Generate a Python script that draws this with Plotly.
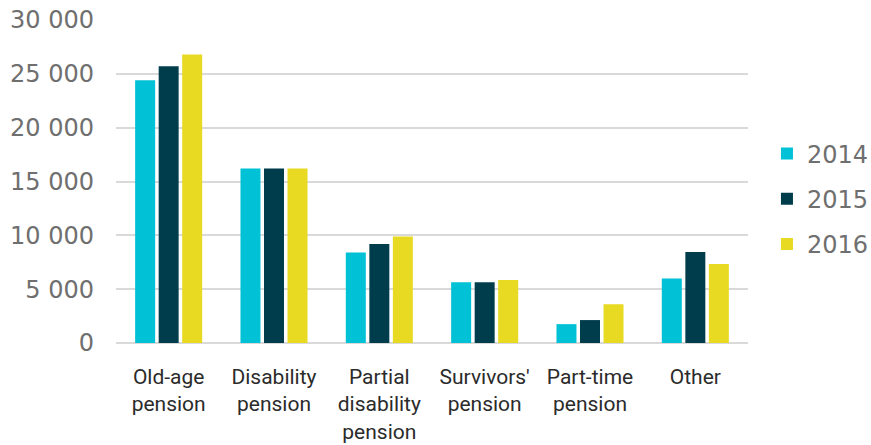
import plotly.graph_objects as go

categories = ["Old-age<br>pension", "Disability<br>pension", "Partial<br>disability<br>pension",
              "Survivors'<br>pension", "Part-time<br>pension", "Other"]
years = ["2014", "2015", "2016"]
values_2014 = [24400, 16200, 8400, 5650, 1750, 6000]
values_2015 = [25700, 16200, 9200, 5650, 2130, 8450]
values_2016 = [26800, 16200, 9900, 5850, 3600, 7330]
colors = ["#00C1D5", "#003D4C", "#E8DA22"]
tick_vals = [0, 5000, 10000, 15000, 20000, 25000, 30000]
tick_text = ["0", "5 000", "10 000", "15 000", "20 000", "25 000", "30 000"]

fig = go.Figure()
for name, vals, col in zip(years, [values_2014, values_2015, values_2016], colors):
    fig.add_trace(go.Bar(x=categories, y=vals, name=name, marker_color=col,
                         marker_line_width=0, legendgroup=name))

fig.update_layout(
    width=871, height=445,
    margin=dict(l=116, r=123, t=20, b=102, autoexpand=False),
    plot_bgcolor="white", paper_bgcolor="white",
    barmode="group", bargap=0.33, bargroupgap=0.15,
    legend=dict(x=1.030, xanchor="left", y=0.446, yanchor="middle",
                font=dict(family="DejaVu Sans", size=24, color="#6f6f6f"),
                tracegroupgap=11, traceorder="grouped"),
    xaxis=dict(tickfont=dict(family="Roboto", size=21, color="#2b2b2b"),
               showline=False, ticks="", ticklabelstandoff=19),
    yaxis=dict(range=[0, 30000], tickvals=tick_vals, ticktext=tick_text,
               tickfont=dict(family="DejaVu Sans", size=24, color="#6f6f6f"),
               showgrid=True, gridcolor="#d9d9d9", gridwidth=2,
               zeroline=True, zerolinecolor="#d9d9d9", zerolinewidth=2,
               ticks="", ticklabelstandoff=21),
)

fig.write_html("out.html")
